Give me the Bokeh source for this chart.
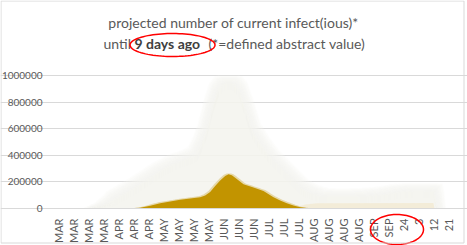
import numpy as np
from bokeh.plotting import figure
from bokeh.models import Range1d, FixedTicker, NumeralTickFormatter, Label, PolyAnnotation
from bokeh.embed import file_html
from bokeh.resources import INLINE

# ---------------- data ----------------
tick_days = list(range(0, 235, 9))          # Mar 1 .. Oct 21, every 9 days
tick_labels = ["MAR", "MAR", "MAR", "MAR", "APR", "APR", "APR", "MAY", "MAY", "MAY", "MAY",
               "JUN", "JUN", "JUN", "JUL", "JUL", "JUL", "AUG", "AUG", "AUG", "AUG",
               "SEP", "SEP", "24", "3", "12", "21"]
y_ticks = [0, 200000, 400000, 600000, 800000, 1000000]

# projected (fuzzy upper) envelope
env_days = [20, 27, 32, 37, 43, 49, 55, 61, 67, 73, 79, 83, 86, 89, 93, 96, 99, 102, 105,
            108, 111, 116, 121, 127, 133, 139, 145, 151, 157, 165, 175, 185, 195, 205, 215, 225, 227]
env_vals = [0, 20000, 45000, 82000, 125000, 170000, 220000, 270000, 310000, 345000, 370000,
            395000, 470000, 570000, 770000, 880000, 925000, 935000, 925000, 880000, 770000,
            570000, 470000, 370000, 295000, 220000, 145000, 107000, 85000, 82000, 82000,
            85000, 95000, 115000, 125000, 120000, 0]

# current infectious (gold)
gold_days = [40, 49, 55, 61, 67, 73, 79, 85, 88, 91, 94, 97, 100, 102, 104, 106, 111, 117,
             123, 129, 133, 137, 141, 145, 150, 155]
gold_vals = [0, 5000, 20000, 40000, 52000, 65000, 75000, 85000, 98000, 125000, 170000, 210000,
             245000, 257000, 250000, 232000, 182000, 157000, 132000, 85000, 60000, 40000,
             22000, 9000, 2500, 0]

# faint tail until the last data day
tail_days = [140, 148, 155, 225, 225.5]
tail_vals = [0, 30000, 40000, 42000, 0]

# ---------------- figure ----------------
W, H = 467, 245
PL, PR, PT, PB = 57, 457, 68, 208            # plotting area in canvas pixels
X0, X1 = -0.6, 239.4                          # data x range of plotting area
Y0, Y1 = 0, 1052632                           # data y range of plotting area
kx = (X1 - X0) / (PR - PL)
ky = (Y1 - Y0) / (PB - PT)
p = figure(width=W, height=H, output_backend="svg", toolbar_location=None,
           x_range=Range1d(X0 - PL * kx, X1 + (W - PR) * kx),
           y_range=Range1d(Y0 - (H - PB) * ky, Y1 + PT * ky),
           min_border=0, min_border_left=0, min_border_right=0,
           min_border_top=0, min_border_bottom=0)
p.outline_line_color = None
p.background_fill_color = "white"
p.border_fill_color = "white"

FONT = "Lato"
GRAY_TXT = "#595959"

# fuzzy envelope layers
xs = np.arange(10, 236, 0.5)
env = np.interp(xs, env_days, env_vals, left=0, right=0)
px_per_day = 1 / kx
val_per_px = ky
for r in np.arange(9, -6, -1):
    w = int(round(max(r, 0) / px_per_day / 0.5))
    dil = env.copy()
    for s in range(1, w + 1):
        dil = np.maximum(dil, np.roll(env, s))
        dil = np.maximum(dil, np.roll(env, -s))
    off = r * val_per_px * np.clip(dil / 60000.0, 0, 1)
    layer = np.clip(dil + off, 0, None)
    p.varea(x=xs, y1=0, y2=layer, fill_color="#f3f3f1", fill_alpha=0.19)

# faint tail
p.varea(x=tail_days, y1=0, y2=tail_vals, fill_color="#f3ead2", fill_alpha=0.8)

# gold area (soft edge + core)
gx = np.arange(35, 160, 0.5)
gv = np.interp(gx, gold_days, gold_vals, left=0, right=0)
gsoft = np.maximum(gv, np.maximum(np.roll(gv, 2), np.roll(gv, -2))) + 7000 * np.clip(gv / 20000.0, 0, 1)
p.varea(x=gx, y1=0, y2=gsoft, fill_color="#c29400", fill_alpha=0.3)
p.varea(x=gold_days, y1=0, y2=gold_vals, fill_color="#c29400", fill_alpha=1.0)

# axes placed inside the full-canvas frame
p.xaxis.fixed_location = 0
p.xaxis.bounds = (X0, X1)
p.xaxis.ticker = FixedTicker(ticks=tick_days)
p.xaxis.major_label_overrides = {d: l for d, l in zip(tick_days, tick_labels)}
p.xaxis.major_label_orientation = np.pi / 2
p.xaxis.axis_line_color = "#d9d9d9"
p.xaxis.major_tick_line_color = None
p.xaxis.minor_tick_line_color = None
p.xaxis.major_label_standoff = 4
p.xaxis.major_label_text_font = FONT
p.xaxis.major_label_text_font_size = "11px"
p.xaxis.major_label_text_color = GRAY_TXT

p.yaxis.fixed_location = X0
p.yaxis.bounds = (Y0, 1000000)
p.yaxis.ticker = FixedTicker(ticks=y_ticks)
p.yaxis.formatter = NumeralTickFormatter(format="0")
p.yaxis.axis_line_color = None
p.yaxis.major_tick_line_color = None
p.yaxis.minor_tick_line_color = None
p.yaxis.major_label_standoff = 9
p.yaxis.major_label_text_font = FONT
p.yaxis.major_label_text_font_size = "10px"
p.yaxis.major_label_text_color = GRAY_TXT

p.xgrid.grid_line_color = None
p.ygrid.ticker = FixedTicker(ticks=y_ticks)
p.ygrid.bounds = (X0, X1)
p.ygrid.grid_line_color = "#d9d9d9"
p.ygrid.grid_line_width = 1


# screen units: relative to frame (= whole canvas) bottom-left corner
def sx(x):
    return x


def sy(y):
    return H - y


U = dict(x_units="screen", y_units="screen")

# title
p.add_layout(Label(x=sx(233), y=sy(22), **U,
                   text="projected number of current infect(ious)*", text_align="center",
                   text_baseline="middle", text_font=FONT, text_font_size="14px",
                   text_color=GRAY_TXT))
p.add_layout(Label(x=sx(103), y=sy(43), **U, text="until",
                   text_align="left", text_baseline="middle", text_font=FONT,
                   text_font_size="14px", text_color=GRAY_TXT))
p.add_layout(Label(x=sx(134), y=sy(43), **U, text="9 days ago",
                   text_align="left", text_baseline="middle", text_font=FONT,
                   text_font_size="14px", text_font_style="bold", text_color="#404040"))
p.add_layout(Label(x=sx(208), y=sy(43), **U,
                   text="(*=defined abstract value)", text_align="left",
                   text_baseline="middle", text_font=FONT, text_font_size="14px",
                   text_color=GRAY_TXT))

# red ellipses
t = np.linspace(0, 2 * np.pi, 90)
for cx, cy, a, b in [(172, 44.5, 42.5, 11.5), (396.5, 229, 26.5, 15)]:
    p.add_layout(PolyAnnotation(xs=list(sx(cx + a * np.cos(t))), ys=list(sy(cy + b * np.sin(t))),
                                xs_units="screen", ys_units="screen", fill_alpha=0,
                                line_color="#ff0000", line_alpha=1.0, line_width=1.5))

# chart border
p.add_layout(PolyAnnotation(xs=[sx(0.5), sx(463.5), sx(463.5), sx(0.5)],
                            ys=[sy(0.5), sy(0.5), sy(242.5), sy(242.5)],
                            xs_units="screen", ys_units="screen", fill_alpha=0,
                            line_color="#d9d9d9", line_alpha=1.0, line_width=1))

open("out.html", "w").write(file_html(p, INLINE))
